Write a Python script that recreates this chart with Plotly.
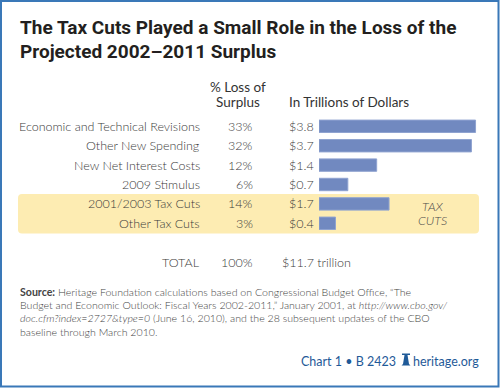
import plotly.graph_objects as go

categories = ["Economic and Technical Revisions", "Other New Spending", "New Net Interest Costs",
              "2009 Stimulus", "2001/2003 Tax Cuts", "Other Tax Cuts"]
pct_loss = [33, 32, 12, 6, 14, 3]
trillions = [3.8, 3.7, 1.4, 0.7, 1.7, 0.4]
total_pct = 100
total_trillions = 11.7

W, H = 500, 388
def px(x):
    return x / W
def py(y):
    return 1 - y / H

BODY = "Lato, 'Open Sans', sans-serif"
TITLE = "Roboto, 'Liberation Sans Narrow', sans-serif"
GRAY = "#3a3a3a"
BLUE = "#1f5a98"

fig = go.Figure()
fig.add_trace(go.Bar(
    x=trillions, y=categories, orientation="h",
    marker=dict(color="#7189c0", line=dict(color="#8fa3d0", width=1)),
    width=0.64, hoverinfo="skip",
))

ann = []
def T(x, y, text, size=13, color=GRAY, xanchor="left", family=BODY, yref="paper", weight=300):
    ann.append(dict(x=x, y=y, xref="paper", yref=yref, text=text, showarrow=False,
                    xanchor=xanchor, yanchor="middle",
                    font=dict(size=size, color=color, family=family, weight=weight),
                    borderpad=0))

# Title
T(px(19), py(28), "<b>The Tax Cuts Played a Small Role in the Loss of the</b>", 19, "#231f20", family=TITLE, weight=700)
T(px(19), py(52), "<b>Projected 2002–2011 Surplus</b>", 19, "#231f20", family=TITLE, weight=700)

# Headers
T(px(238), py(87), "% Loss of", 13.5, "#333333", "center", weight=400)
T(px(238), py(102), "Surplus", 13.5, "#333333", "center", weight=400)
T(px(288), py(102), "In Trillions of Dollars", 13.5, "#333333", "left", weight=400)

for c, p, v in zip(categories, pct_loss, trillions):
    T(px(201), c, c, 12.5, GRAY, "right", yref="y")
    T(px(254), c, f"{p}%", 12.5, GRAY, "right", yref="y")
    T(px(288), c, f"${v}", 12.5, GRAY, "left", yref="y")

T(px(432), py(206.5), "<i>TAX</i>", 12.5, "#4a4a4a", "center")
T(px(432), py(220.5), "<i>CUTS</i>", 12.5, "#4a4a4a", "center")

# Total row
T(px(201), py(262), "TOTAL", 12.5, GRAY, "right")
T(px(254), py(262), f"{total_pct}%", 12.5, GRAY, "right")
T(px(281), py(262), f"${total_trillions} trillion", 12.5, GRAY, "left")

# Source
src = [
    "<b>Source:</b> Heritage Foundation calculations based on Congressional Budget Office, “The",
    "Budget and Economic Outlook: Fiscal Years 2002-2011,” January 2001, at <i>http://www.cbo.gov/</i>",
    "<i>doc.cfm?index=2727&type=0</i> (June 16, 2010), and the 28 subsequent updates of the CBO",
    "baseline through March 2010.",
]
for i, s in enumerate(src):
    T(px(19), py(292 + i * 13.2), s, 10.6, "#444444", "left")

# Footer
T(px(397), py(361), "Chart 1 • B 2423", 12.5, BLUE, "right", weight=400)
T(px(480), py(361), "heritage.org", 12.5, BLUE, "right", weight=400)

shapes = []
# highlight box (rounded)
x0, x1, y0, y1, r = px(18), px(479), py(194), py(233.5), 4
rx, ry = r / W, r / H
path = (f"M {x0+rx},{y0} L {x1-rx},{y0} Q {x1},{y0} {x1},{y0-ry} L {x1},{y1+ry} Q {x1},{y1} {x1-rx},{y1} "
        f"L {x0+rx},{y1} Q {x0},{y1} {x0},{y1+ry} L {x0},{y0-ry} Q {x0},{y0} {x0+rx},{y0} Z")
shapes.append(dict(type="path", xref="paper", yref="paper", path=path,
                   fillcolor="#fdecb2", line=dict(width=0), layer="below"))
# bell icon
bx, by = 406, 361
bell = (f"M {px(bx-1.5)},{py(by-6)} L {px(bx+1.5)},{py(by-6)} L {px(bx+3)},{py(by+3)} "
        f"L {px(bx+4.5)},{py(by+4.5)} L {px(bx-4.5)},{py(by+4.5)} L {px(bx-3)},{py(by+3)} Z")
shapes.append(dict(type="path", xref="paper", yref="paper", path=bell, fillcolor=BLUE, line=dict(width=0)))
shapes.append(dict(type="rect", xref="paper", yref="paper", x0=px(bx-4), x1=px(bx+4), y0=py(by-6), y1=py(by-7.5),
                   fillcolor=BLUE, line=dict(width=0)))
# border
shapes.append(dict(type="rect", xref="paper", yref="paper", x0=px(1), x1=px(498.5), y0=py(1), y1=py(386.5),
                   line=dict(color="#3a78b8", width=2)))

fig.update_layout(
    width=W, height=H, margin=dict(l=0, r=0, t=0, b=0),
    paper_bgcolor="white", plot_bgcolor="rgba(0,0,0,0)",
    showlegend=False,
    xaxis=dict(domain=[px(319), px(479)], range=[0, 160 / 41.2], visible=False, fixedrange=True),
    yaxis=dict(domain=[py(233), py(116.6)], type="category", categoryorder="array",
               categoryarray=categories, range=[5.5, -0.5], visible=False, fixedrange=True),
    annotations=ann, shapes=shapes,
)

fig.write_html("out.html", config={"displayModeBar": False},
               post_script="document.body.style.margin='0';")
